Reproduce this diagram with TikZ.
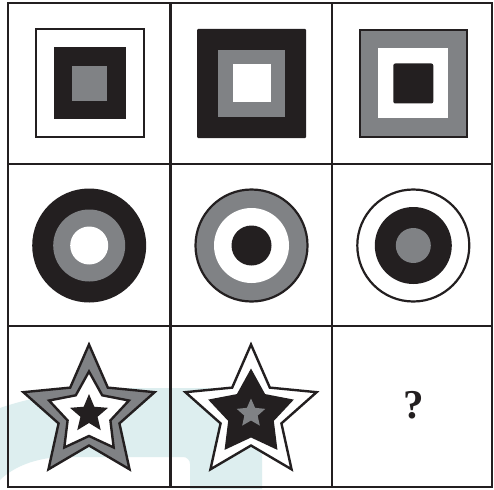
\documentclass[tikz,border=0pt]{standalone}
\usepackage{fontspec}
\setmainfont{Liberation Serif}
\definecolor{ink}{HTML}{231F20}
\definecolor{mid}{HTML}{808285}
\definecolor{wm}{HTML}{DDEEEF}
\newcommand{\mystar}[4][]{%
  \path[#1,shift={#2}] (-90:#3) -- (-54:#4) -- (-18:#3) -- (18:#4) -- (54:#3) -- (90:#4) -- (126:#3) -- (162:#4) -- (198:#3) -- (234:#4) -- cycle;}
\newcommand{\mysq}[3][]{%
  \path[#1,shift={#2}] (-#3/2,-#3/2) rectangle (#3/2,#3/2);}
\tikzset{
  grid/.style={draw=ink, line width=2.4pt},
  outl/.style={draw=ink, line width=2.2pt},
  stl/.style={draw=ink, line width=2.4pt, line join=miter},
}
\begin{document}
\begin{tikzpicture}[x=1pt,y=-1pt]
\useasboundingbox (0,0) rectangle (494,489);
\fill[white] (0,0) rectangle (494,489);
% watermark
\fill[wm] (0,408) .. controls (40,394) and (90,388) .. (140,388) -- (262,388) -- (262,489) -- (190,489)
  -- (190,464) .. controls (190,460) and (187,457) .. (183,457) -- (65,457)
  .. controls (35,457) and (12,468) .. (0,480) -- cycle;
% row 1: squares
\mysq[outl, fill=white]{(89.7,83.3)}{108}
\mysq[fill=ink]{(89.7,83.3)}{72}
\mysq[fill=mid]{(89.7,83.3)}{35}
\mysq[fill=ink, rounded corners=1pt]{(251.5,83.5)}{109}
\mysq[fill=mid]{(251.5,83.5)}{67}
\mysq[fill=white]{(251.5,83.5)}{38}
\mysq[outl, fill=mid]{(413.3,83.5)}{107}
\mysq[fill=white]{(413.3,83.5)}{70}
\mysq[fill=ink, rounded corners=2pt]{(413.3,83.5)}{40}
% row 2: circles
\fill[ink] (89.2,245.5) circle[radius=57];
\fill[mid] (89.2,245.5) circle[radius=36];
\fill[white] (89.2,245.5) circle[radius=19];
\path[outl, fill=mid] (251.5,245.5) circle[radius=56];
\fill[white] (251.5,245.5) circle[radius=37.5];
\fill[ink] (251.5,245.5) circle[radius=20];
\path[outl, fill=white] (413.3,245.5) circle[radius=56];
\fill[ink] (413.3,245.5) circle[radius=38.5];
\fill[mid] (413.3,245.5) circle[radius=17.5];
% row 3: stars
\mystar[stl, fill=mid]{(89,413.5)}{69}{32}
\mystar[stl, fill=white]{(89,413.5)}{42}{22.5}
\mystar[fill=ink]{(89,414)}{20}{9}
\mystar[stl, fill=white]{(251,413.5)}{69}{32}
\mystar[fill=ink]{(251,413.5)}{45}{24}
\mystar[fill=mid]{(251,413.5)}{15}{7}
\node[text=ink, font=\bfseries\fontsize{41}{44}\selectfont, inner sep=0pt] (q) at (413.5,405) {?};
% grid
\draw[grid] (8,3) rectangle (492,487);
\draw[grid] (170.5,3) -- (170.5,487);
\draw[grid] (332,3) -- (332,487);
\draw[grid] (8,164) -- (492,164);
\draw[grid] (8,326) -- (492,326);
\end{tikzpicture}
\end{document}
